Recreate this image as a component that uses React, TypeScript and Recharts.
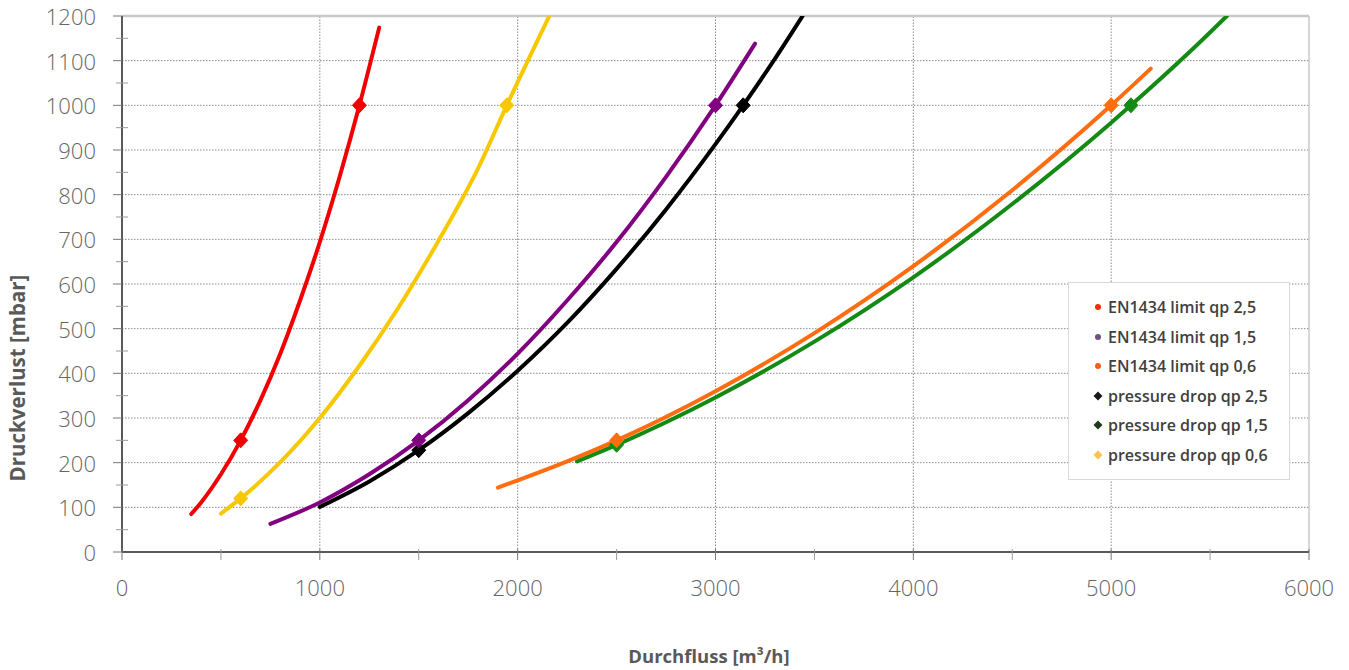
import React from 'react';
import { ComposedChart, Line, XAxis, YAxis, ReferenceLine } from 'recharts';

// Axis ticks (major + minor) and grid values
const xTicks = [0, 500, 1000, 1500, 2000, 2500, 3000, 3500, 4000, 4500, 5000, 5500, 6000];
const yTicks = [0, 50, 100, 150, 200, 250, 300, 350, 400, 450, 500, 550, 600, 650, 700, 750, 800, 850, 900, 950, 1000, 1050, 1100, 1150, 1200];
const xGridValues = [1000, 2000, 3000, 4000, 5000];
const yGridValues = [100, 200, 300, 400, 500, 600, 700, 800, 900, 1000, 1100];

// Series (flow m3/h -> pressure drop mbar)
const limitQp25 = [
  { x: 350, y: 85 }, { x: 400, y: 111 }, { x: 500, y: 174 }, { x: 600, y: 250 }, { x: 700, y: 340 },
  { x: 800, y: 444 }, { x: 900, y: 563 }, { x: 1000, y: 694 }, { x: 1100, y: 840 }, { x: 1200, y: 1000 }, { x: 1300, y: 1174 },
];
const limitQp25Markers = [{ x: 600, y: 250 }, { x: 1200, y: 1000 }];

const limitQp15 = [
  { x: 750, y: 63 }, { x: 1000, y: 111 }, { x: 1250, y: 174 }, { x: 1500, y: 250 }, { x: 1750, y: 340 },
  { x: 2000, y: 444 }, { x: 2250, y: 563 }, { x: 2500, y: 694 }, { x: 2750, y: 840 }, { x: 3000, y: 1000 }, { x: 3200, y: 1138 },
];
const limitQp15Markers = [{ x: 1500, y: 250 }, { x: 3000, y: 1000 }];

const limitQp06 = [
  { x: 1900, y: 144 }, { x: 2250, y: 203 }, { x: 2500, y: 250 }, { x: 3000, y: 360 }, { x: 3500, y: 490 },
  { x: 4000, y: 640 }, { x: 4500, y: 810 }, { x: 5000, y: 1000 }, { x: 5200, y: 1082 },
];
const limitQp06Markers = [{ x: 2500, y: 250 }, { x: 5000, y: 1000 }];

const dropQp25 = [
  { x: 1000, y: 101 }, { x: 1250, y: 158 }, { x: 1500, y: 228 }, { x: 1750, y: 311 }, { x: 2000, y: 406 },
  { x: 2250, y: 513 }, { x: 2500, y: 634 }, { x: 2750, y: 767 }, { x: 3000, y: 913 }, { x: 3140, y: 1000 },
  { x: 3300, y: 1104 }, { x: 3440, y: 1200 },
];
const dropQp25Markers = [{ x: 1500, y: 228 }, { x: 3140, y: 1000 }];

const dropQp15 = [
  { x: 2300, y: 203 }, { x: 2500, y: 240 }, { x: 3000, y: 346 }, { x: 3500, y: 471 }, { x: 4000, y: 615 },
  { x: 4500, y: 779 }, { x: 5000, y: 961 }, { x: 5100, y: 1000 }, { x: 5400, y: 1121 }, { x: 5585, y: 1200 },
];
const dropQp15Markers = [{ x: 2500, y: 240 }, { x: 5100, y: 1000 }];

const dropQp06 = [
  { x: 500, y: 86 }, { x: 600, y: 120 }, { x: 800, y: 201 }, { x: 1000, y: 300 }, { x: 1200, y: 417 },
  { x: 1400, y: 549 }, { x: 1600, y: 697 }, { x: 1800, y: 859 }, { x: 1945, y: 1000 }, { x: 2160, y: 1200 },
];
const dropQp06Markers = [{ x: 600, y: 120 }, { x: 1945, y: 1000 }];

const legendNames = [
  'EN1434 limit qp 2,5',
  'EN1434 limit qp 1,5',
  'EN1434 limit qp 0,6',
  'pressure drop qp 2,5',
  'pressure drop qp 1,5',
  'pressure drop qp 0,6',
];
const legendColors = ['#ff2a00', '#6e4f7e', '#ff5a1a', '#1a1a1a', '#1d3a1d', '#ffc24d'];
const legendShapes = ['circle', 'circle', 'circle', 'diamond', 'diamond', 'diamond'];

const AXIS_COLOR = '#595959';
const FONT = '"Open Sans", "Noto Sans", sans-serif';

const XTick = (props: any) => {
  const { x, y, payload } = props;
  const v = payload.value;
  const major = v % 1000 === 0;
  return (
    <g>
      <line x1={x} x2={x} y1={y - 3} y2={y + 8} stroke={major ? '#777' : '#999'} strokeWidth={1} />
      {major && (
        <text x={x} y={y + 35} textAnchor="middle" dominantBaseline="central" fill="#666" fontSize={22} fontFamily={FONT} fontWeight={300}>
          {v}
        </text>
      )}
    </g>
  );
};

const YTick = (props: any) => {
  const { x, y, payload } = props;
  const v = payload.value;
  const major = v % 100 === 0;
  return (
    <g>
      {major ? (
        <line x1={x - 9} x2={x} y1={y} y2={y} stroke="#777" strokeWidth={1} />
      ) : (
        <line x1={x - 6} x2={x + 6} y1={y} y2={y} stroke="#999" strokeWidth={1} />
      )}
      {major && (
        <text x={x - 26} y={y} textAnchor="end" dominantBaseline="central" fill="#666" fontSize={22} fontFamily={FONT} fontWeight={300}>
          {v}
        </text>
      )}
    </g>
  );
};

const makeDiamond = (color: string) => (p: any) => {
  const { cx, cy, index } = p;
  if (cx == null || cy == null) return <g key={`d-${index}`} />;
  return (
    <polygon
      key={`d-${color}-${index}`}
      points={`${cx},${cy - 7.5} ${cx + 7},${cy} ${cx},${cy + 7.5} ${cx - 7},${cy}`}
      fill={color}
      stroke={color}
      strokeWidth={1}
    />
  );
};

const LegendBox = () => (
  <div
    style={{
      position: 'absolute',
      left: 1060,
      top: 274,
      width: 222,
      height: 198,
      boxSizing: 'border-box',
      background: '#fff',
      border: '1px solid #d9d9d9',
      fontFamily: FONT,
    }}
  >
    {legendNames.map((name, i) => {
      const cy = 24 + i * 29.6;
      return (
        <div key={name} style={{ position: 'absolute', left: 23, top: cy - 11, height: 22, display: 'flex', alignItems: 'center' }}>
          <svg width={12} height={12} style={{ marginRight: 4 }}>
            {legendShapes[i] === 'circle' ? (
              <circle cx={6} cy={6} r={3} fill={legendColors[i]} />
            ) : (
              <polygon points="6,1.5 10.5,6 6,10.5 1.5,6" fill={legendColors[i]} />
            )}
          </svg>
          <span style={{ fontSize: 16, fontWeight: 600, color: '#404040', whiteSpace: 'nowrap' }}>{name}</span>
        </div>
      );
    })}
  </div>
);

export default function App() {
  const lineCommon = {
    type: 'monotone' as const,
    dataKey: 'y',
    dot: false,
    activeDot: false,
    strokeWidth: 4,
    strokeLinecap: 'round' as const,
    isAnimationActive: false,
    legendType: 'none' as const,
  };
  const markerCommon = {
    type: 'linear' as const,
    dataKey: 'y',
    stroke: 'none',
    activeDot: false,
    isAnimationActive: false,
    legendType: 'none' as const,
  };
  return (
    <div style={{ position: 'relative', width: 1341, height: 662 }}>
      <ComposedChart width={1341} height={662} margin={{ top: 8, right: 40, bottom: 0, left: 0 }}>
        <XAxis
          type="number"
          dataKey="x"
          domain={[0, 6000]}
          ticks={xTicks}
          interval={0}
          height={118}
          tickSize={0}
          tickMargin={0}
          tickLine={false}
          tick={<XTick />}
          axisLine={{ stroke: AXIS_COLOR, strokeWidth: 2 }}
          allowDataOverflow
        />
        <YAxis
          type="number"
          domain={[0, 1200]}
          ticks={yTicks}
          interval={0}
          width={114}
          tickSize={0}
          tickMargin={0}
          tickLine={false}
          tick={<YTick />}
          axisLine={{ stroke: AXIS_COLOR, strokeWidth: 2 }}
          allowDataOverflow
        />
        {yGridValues.map((v) => (
          <ReferenceLine key={`gy${v}`} y={v} stroke="#8a8a8a" strokeWidth={1} strokeDasharray="1.5 1.5" />
        ))}
        {xGridValues.map((v) => (
          <ReferenceLine key={`gx${v}`} x={v} stroke="#8a8a8a" strokeWidth={1} strokeDasharray="1.5 1.5" />
        ))}
        <ReferenceLine y={1200} stroke="#c8c8c8" strokeWidth={2.5} />
        <ReferenceLine x={6000} stroke="#c8c8c8" strokeWidth={1.5} />

        <Line {...lineCommon} name="pressure drop qp 1,5" data={dropQp15} stroke="#138a13" />
        <Line {...lineCommon} name="EN1434 limit qp 0,6" data={limitQp06} stroke="#ff6d10" />
        <Line {...lineCommon} name="pressure drop qp 2,5" data={dropQp25} stroke="#000000" />
        <Line {...lineCommon} name="EN1434 limit qp 1,5" data={limitQp15} stroke="#800080" />
        <Line {...lineCommon} name="pressure drop qp 0,6" data={dropQp06} stroke="#f7c800" />
        <Line {...lineCommon} name="EN1434 limit qp 2,5" data={limitQp25} stroke="#f00000" />

        <Line {...markerCommon} data={dropQp15Markers} dot={makeDiamond('#138a13')} />
        <Line {...markerCommon} data={limitQp06Markers} dot={makeDiamond('#ff6d10')} />
        <Line {...markerCommon} data={dropQp25Markers} dot={makeDiamond('#000000')} />
        <Line {...markerCommon} data={limitQp15Markers} dot={makeDiamond('#800080')} />
        <Line {...markerCommon} data={dropQp06Markers} dot={makeDiamond('#f7c800')} />
        <Line {...markerCommon} data={limitQp25Markers} dot={makeDiamond('#f00000')} />
      </ComposedChart>
      <LegendBox />
      <div
        style={{
          position: 'absolute',
          left: 8.5,
          top: 370,
          transform: 'translate(-50%, -50%) rotate(-90deg)',
          whiteSpace: 'nowrap',
          fontFamily: FONT,
          fontWeight: 700,
          fontSize: 20.5,
          color: AXIS_COLOR,
        }}
      >
        Druckverlust [mbar]
      </div>
      <div
        style={{
          position: 'absolute',
          left: 701,
          top: 647,
          transform: 'translate(-50%, -50%)',
          whiteSpace: 'nowrap',
          fontFamily: FONT,
          fontWeight: 700,
          fontSize: 18.5,
          color: AXIS_COLOR,
        }}
      >
        Durchfluss [m³/h]
      </div>
    </div>
  );
}
